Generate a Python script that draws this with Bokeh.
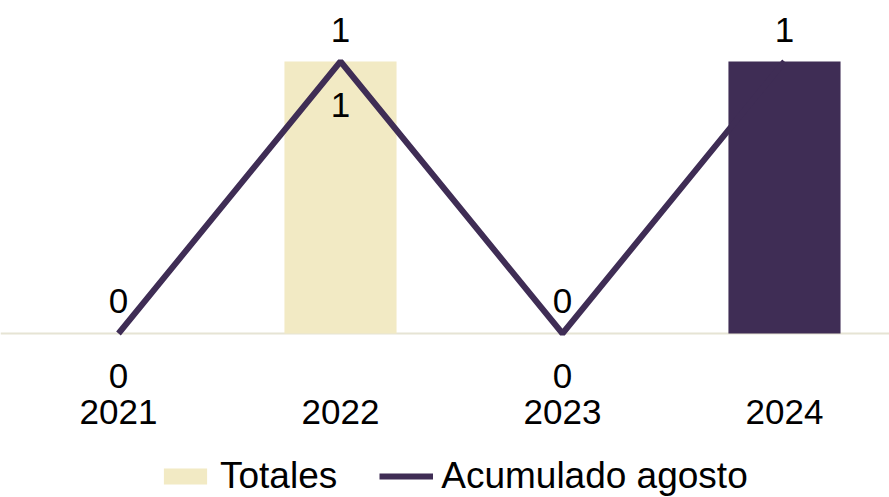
from bokeh.plotting import figure
from bokeh.models import ColumnDataSource, Range1d, Span, Legend, LegendItem
from bokeh.core.properties import value
from bokeh.embed import file_html
from bokeh.resources import INLINE

# ---- data ----
years = ["2021", "2022", "2023", "2024"]
totales = [0, 1, 0, 1]
acumulado = [0, 1, 0, 1]
bar_colors = ["#F2EAC4", "#F2EAC4", "#F2EAC4", "#3F2D55"]
# bar labels visible in the reference (the 2024 one blends into its bar)
bar_label_idx = [0, 1, 2]

PURPLE = "#3F2D55"
FONT = "Liberation Sans"

xs = list(range(len(years)))

src = ColumnDataSource(dict(x=xs, tot=totales, acu=acumulado,
                            color=bar_colors, year=years,
                            base=[0] * len(years),
                            acu_lbl=[str(v) for v in acumulado]))
bsrc = ColumnDataSource(dict(x=[xs[i] for i in bar_label_idx],
                             y=[totales[i] for i in bar_label_idx],
                             lbl=[str(totales[i]) for i in bar_label_idx]))

p = figure(width=889, height=497, output_backend="svg", toolbar_location=None,
           x_range=Range1d(-0.5315, 3.473), y_range=Range1d(-0.603, 1.2243),
           x_axis_location=None, y_axis_location=None,
           min_border_left=0, min_border_right=0,
           min_border_top=0, min_border_bottom=0)
p.outline_line_color = None
p.xgrid.visible = False
p.ygrid.visible = False
p.background_fill_color = "white"
p.border_fill_color = "white"

bars = p.vbar(x="x", top="tot", bottom=0, width=0.505, fill_color="color",
              line_color=None, source=src)

zero = Span(location=0, dimension="width", line_color="#E6E4D4", line_width=2,
            level="underlay")
p.add_layout(zero)

line = p.line(x="x", y="acu", line_width=6, line_color=PURPLE, source=src)

txt = dict(text_align="center", text_baseline="alphabetic",
           text_font=value(FONT), text_font_size="35px", text_color="black")
# line labels
p.text(x="x", y="acu", text="acu_lbl", source=src, y_offset=-32, **txt)
# bar labels
p.text(x="x", y="y", text="lbl", source=bsrc, y_offset=43, **txt)
# category (year) labels under the baseline
p.text(x="x", y="base", text="year", source=src, y_offset=79, **txt)

legend = Legend(items=[LegendItem(label="Totales", renderers=[bars], index=1),
                       LegendItem(label="Acumulado agosto", renderers=[line])],
                orientation="horizontal", location=(158, 0),
                label_text_font=FONT, label_text_font_size="37px",
                label_text_color="black",
                glyph_width=54, glyph_height=20, label_standoff=8, spacing=42,
                margin=0, padding=2, border_line_color=None,
                background_fill_alpha=0)
p.add_layout(legend, "center")

open("out.html", "w").write(file_html(p, INLINE))
